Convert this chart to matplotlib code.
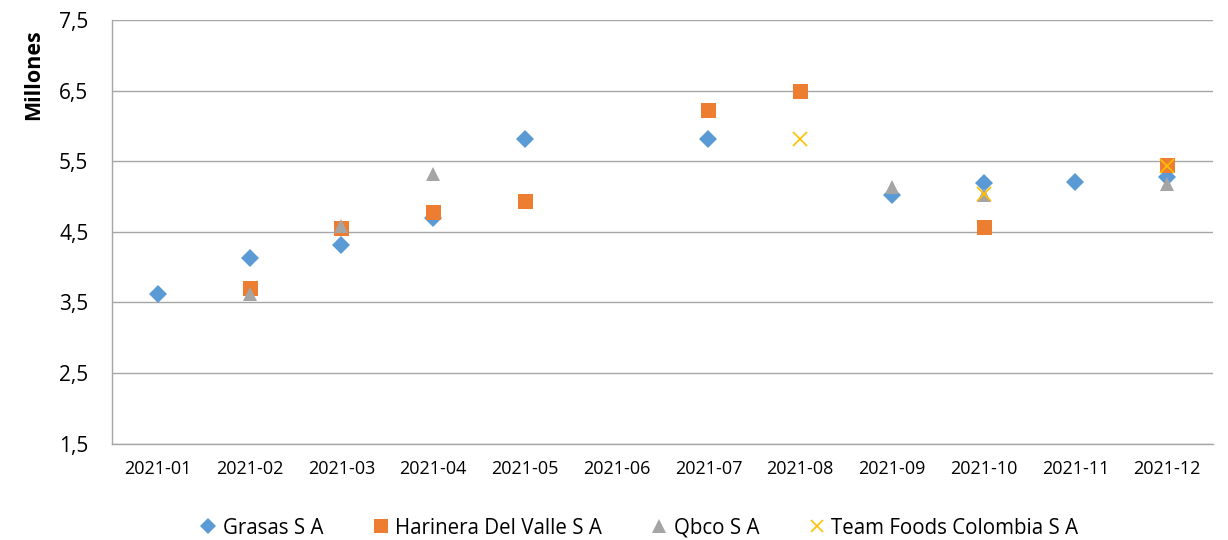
import matplotlib
matplotlib.use("Agg")
import matplotlib.pyplot as plt
from matplotlib.ticker import FuncFormatter
import numpy as np

categories = ["2021-01", "2021-02", "2021-03", "2021-04", "2021-05", "2021-06",
              "2021-07", "2021-08", "2021-09", "2021-10", "2021-11", "2021-12"]
nan = np.nan
grasas = [3.62, 4.13, 4.31, 4.69, 5.82, nan, 5.82, nan, 5.02, 5.19, 5.21, 5.28]
harinera = [nan, 3.71, 4.55, 4.78, 4.93, nan, 6.23, 6.49, nan, 4.57, nan, 5.45]
qbco = [nan, 3.62, 4.58, 5.32, nan, nan, nan, nan, 5.13, 5.02, nan, 5.18]
teamfoods = [nan, nan, nan, nan, nan, nan, nan, 5.81, nan, 5.03, nan, 5.43]
series_names = ["Grasas S A", "Harinera Del Valle S A", "Qbco S A", "Team Foods Colombia S A"]
yticks = [1.5, 2.5, 3.5, 4.5, 5.5, 6.5, 7.5]

plt.rcParams['font.family'] = ['Open Sans', 'DejaVu Sans']

fig = plt.figure(figsize=(12.28, 5.4), dpi=100)
ax = fig.add_axes([0.0912, 0.1787, 0.8966, 0.7843])

x = np.arange(len(categories))
ax.plot(x, grasas, linestyle='none', marker='D', markersize=9.5, color='#5B9BD5',
        markeredgewidth=0, label=series_names[0], zorder=3)
ax.plot(x, harinera, linestyle='none', marker='s', markersize=10.8, color='#ED7D31',
        markeredgewidth=0, label=series_names[1], zorder=4)
ax.plot(x, qbco, linestyle='none', marker='^', markersize=10.5, color='#A5A5A5',
        markeredgewidth=0, label=series_names[2], zorder=5)
ax.plot(x, teamfoods, linestyle='none', marker='x', markersize=10, color='#FFC000',
        markeredgewidth=1.2, label=series_names[3], zorder=6)

ax.set_xlim(-0.5, len(categories) - 0.5)
ax.set_ylim(1.5, 7.5)
ax.set_yticks(yticks)
ax.yaxis.set_major_formatter(FuncFormatter(lambda v, p: f"{v:.1f}".replace('.', ',')))
ax.set_xticks(x)
ax.set_xticklabels(categories, fontsize=13)
ax.tick_params(axis='y', labelsize=15, length=0, pad=17)
ax.tick_params(axis='x', length=0, pad=12)
ax.grid(axis='y', color='#A6A6A6', linewidth=1.0)
ax.set_axisbelow(True)
for s in ['top', 'right']:
    ax.spines[s].set_visible(False)
ax.spines['left'].set_color('#A6A6A6')
ax.spines['bottom'].set_color('#A6A6A6')
ax.spines['left'].set_linewidth(1.0)
ax.spines['bottom'].set_linewidth(1.0)

fig.text(0.027, 0.861, "Millones", rotation=90, fontsize=15.5, fontweight='bold',
         ha='center', va='center')

fig.legend(loc='center', bbox_to_anchor=(0.518, 0.022), ncol=4, frameon=False,
           fontsize=14.8, handletextpad=0.0, columnspacing=2.1, markerscale=0.9,
           handlelength=1.4)

fig.savefig("out.png", dpi=100)
